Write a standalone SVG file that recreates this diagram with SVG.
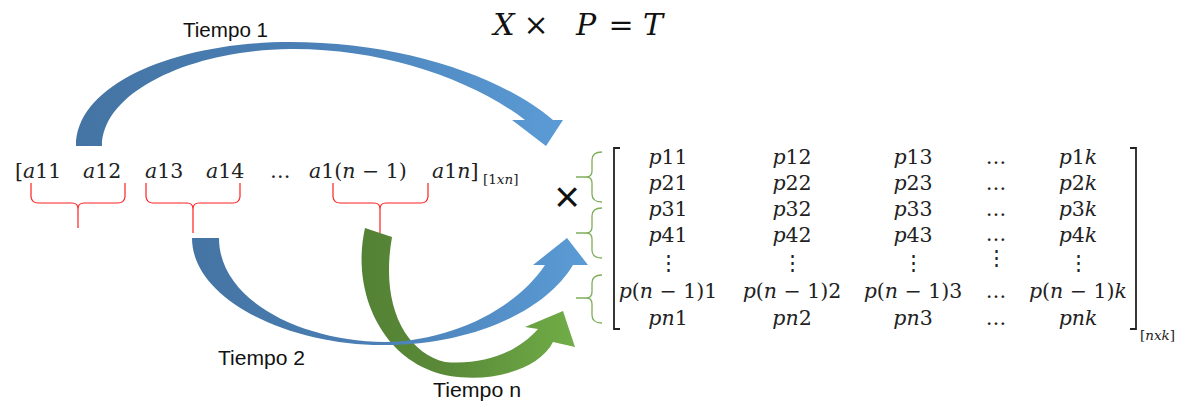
<svg xmlns="http://www.w3.org/2000/svg" width="1190" height="405" viewBox="0 0 1190 405">
<defs>
<style>
.m{font-family:"DejaVu Serif","Liberation Serif",serif;font-size:20.5px;fill:#222}
.mc{font-family:"DejaVu Serif","Liberation Serif",serif;font-size:20.5px;fill:#222;text-anchor:middle}
.i{font-style:italic}
.sub{font-family:"DejaVu Serif","Liberation Serif",serif;font-size:13.5px;fill:#222}
.f{font-family:"DejaVu Serif","Liberation Serif",serif;font-size:30px;fill:#111;text-anchor:middle}
.lbl{font-family:"Liberation Sans","Open Sans",sans-serif;font-size:19.5px;fill:#111}
.rb{fill:none;stroke:#ff2020;stroke-width:1.2}
.gb{fill:none;stroke:#7fae5a;stroke-width:1.3}
.br{fill:none;stroke:#222;stroke-width:1.8}
</style>
<linearGradient id="gBlue" x1="0" y1="0" x2="1" y2="0">
<stop offset="0" stop-color="#4474a3"/>
<stop offset="0.45" stop-color="#4a7fb5"/>
<stop offset="1" stop-color="#5b9bd5"/>
</linearGradient>
<linearGradient id="gGreen" x1="0" y1="0" x2="1" y2="0">
<stop offset="0" stop-color="#548235"/>
<stop offset="0.4" stop-color="#5a8a38"/>
<stop offset="1" stop-color="#70ad47"/>
</linearGradient>
</defs>
<rect width="1190" height="405" fill="#fff"/>

<g id="formula">
<text class="f i" x="504" y="35">X</text>
<text class="f" x="536" y="35">×</text>
<text class="f i" x="586" y="35">P</text>
<text class="f" x="621" y="35">=</text>
<text class="f i" x="653" y="35">T</text>
</g>

<g id="connectors">
<path id="arrow-t1" fill="url(#gBlue)" d="M76,146 C76,82 180,42 290,42 C400,42 500,75 553,120 L563,120 L546,146 L512,120 L525,120 C470,78 380,48 290,49 C190,50 102,92 102,146 Z"/>
<path id="arrow-tn" fill="url(#gGreen)" d="M365,228 C350,295 385,365 450,376 C495,383 540,368 553,342 L575,347 L563,311 L525,327 L538,329 C515,355 480,365 445,362 C405,352 380,305 392,237 Z"/>
<path id="arrow-t2" fill="url(#gBlue)" d="M192,238 C192,300 290,346 385,345 C470,345 545,312 573,265 L588,265 L567,238 L533,265 L545,265 C515,310 450,341 385,342 C300,341 219,300 219,238 Z"/>
</g>

<g id="labels">
<text class="lbl" x="183" y="37" textLength="85" lengthAdjust="spacingAndGlyphs">Tiempo 1</text>
<text class="lbl" x="218" y="365" textLength="87" lengthAdjust="spacingAndGlyphs">Tiempo 2</text>
<text class="lbl" x="433" y="397" textLength="88" lengthAdjust="spacingAndGlyphs">Tiempo n</text>
</g>

<g id="row-vector">
<text class="m" x="15" y="178">[<tspan class="i">a</tspan>11</text>
<text class="m" x="83" y="178"><tspan class="i">a</tspan>12</text>
<text class="m" x="145" y="178"><tspan class="i">a</tspan>13</text>
<text class="m" x="206" y="178"><tspan class="i">a</tspan>14</text>
<text class="m" x="270" y="178">…</text>
<text class="m" x="309" y="178"><tspan class="i">a</tspan>1(<tspan class="i">n</tspan> − 1)</text>
<text class="m" x="432" y="178"><tspan class="i">a</tspan>1<tspan class="i">n</tspan>]</text>
<text class="sub" x="483" y="184">[1<tspan class="i">xn</tspan>]</text>
</g>

<g id="groups-row">
<path class="rb" d="M31,183 L31,197 Q32,203 38,203 L72,203 Q78,203 78,209 L78,228 M78,209 Q78,203 84,203 L118,203 Q124,203 125,197 L125,183"/>
<path class="rb" d="M146,183 L146,197 Q147,203 153,203 L187,203 Q193,203 193,209 L193,233 M193,209 Q193,203 199,203 L233,203 Q239,203 240,197 L240,183"/>
<path class="rb" d="M333,183 L333,197 Q334,203 340,203 L374,203 Q380,203 380,209 L380,233 M380,209 Q380,203 386,203 L421,203 Q427,203 428,197 L428,183"/>
</g>

<g id="times">
<text x="567" y="212" font-family="Liberation Sans, sans-serif" font-size="44" text-anchor="middle" fill="#111">×</text>
</g>

<g id="groups-matrix">
<path class="gb" d="M602,152 Q592,152 592,160 L592,171 Q592,177 586,177 L576,177 M586,177 Q592,177 592,183 L592,194 Q592,202 602,202"/>
<path class="gb" d="M602,208 Q592,208 592,216 L592,227 Q592,233 586,233 L576,233 M586,233 Q592,233 592,239 L592,250 Q592,258 602,258"/>
<path class="gb" d="M602,275 Q592,275 592,283 L592,292 Q592,298 586,298 L576,298 M586,298 Q592,298 592,304 L592,315 Q592,323 602,323"/>
</g>

<g id="matrix">
<path class="br" d="M620,148 L614,148 L614,329 L620,329"/>
<path class="br" d="M1130,148 L1136,148 L1136,329 L1130,329"/>
<text class="mc" x="668" y="164"><tspan class="i">p</tspan>11</text>
<text class="mc" x="792" y="164"><tspan class="i">p</tspan>12</text>
<text class="mc" x="913" y="164"><tspan class="i">p</tspan>13</text>
<text class="mc" x="996" y="164">…</text>
<text class="mc" x="1078" y="164"><tspan class="i">p</tspan>1<tspan class="i">k</tspan></text>
<text class="mc" x="668" y="190"><tspan class="i">p</tspan>21</text>
<text class="mc" x="792" y="190"><tspan class="i">p</tspan>22</text>
<text class="mc" x="913" y="190"><tspan class="i">p</tspan>23</text>
<text class="mc" x="996" y="190">…</text>
<text class="mc" x="1078" y="190"><tspan class="i">p</tspan>2<tspan class="i">k</tspan></text>
<text class="mc" x="668" y="216"><tspan class="i">p</tspan>31</text>
<text class="mc" x="792" y="216"><tspan class="i">p</tspan>32</text>
<text class="mc" x="913" y="216"><tspan class="i">p</tspan>33</text>
<text class="mc" x="996" y="216">…</text>
<text class="mc" x="1078" y="216"><tspan class="i">p</tspan>3<tspan class="i">k</tspan></text>
<text class="mc" x="668" y="242"><tspan class="i">p</tspan>41</text>
<text class="mc" x="792" y="242"><tspan class="i">p</tspan>42</text>
<text class="mc" x="913" y="242"><tspan class="i">p</tspan>43</text>
<text class="mc" x="996" y="241">…</text>
<text class="mc" x="1078" y="242"><tspan class="i">p</tspan>4<tspan class="i">k</tspan></text>
<text class="mc" x="668" y="270">⋮</text>
<text class="mc" x="792" y="270">⋮</text>
<text class="mc" x="913" y="270">⋮</text>
<text class="mc" x="996" y="265">⋮</text>
<text class="mc" x="1078" y="270">⋮</text>
<text class="mc" x="668" y="298"><tspan class="i">p</tspan>(<tspan class="i">n</tspan> − 1)1</text>
<text class="mc" x="792" y="298"><tspan class="i">p</tspan>(<tspan class="i">n</tspan> − 1)2</text>
<text class="mc" x="913" y="298"><tspan class="i">p</tspan>(<tspan class="i">n</tspan> − 1)3</text>
<text class="mc" x="996" y="298">…</text>
<text class="mc" x="1078" y="298"><tspan class="i">p</tspan>(<tspan class="i">n</tspan> − 1)<tspan class="i">k</tspan></text>
<text class="mc" x="668" y="325"><tspan class="i">pn</tspan>1</text>
<text class="mc" x="792" y="325"><tspan class="i">pn</tspan>2</text>
<text class="mc" x="913" y="325"><tspan class="i">pn</tspan>3</text>
<text class="mc" x="996" y="325">…</text>
<text class="mc" x="1078" y="325"><tspan class="i">pnk</tspan></text>
<text class="sub" x="1140" y="340">[<tspan class="i">nxk</tspan>]</text>
</g>
</svg>
